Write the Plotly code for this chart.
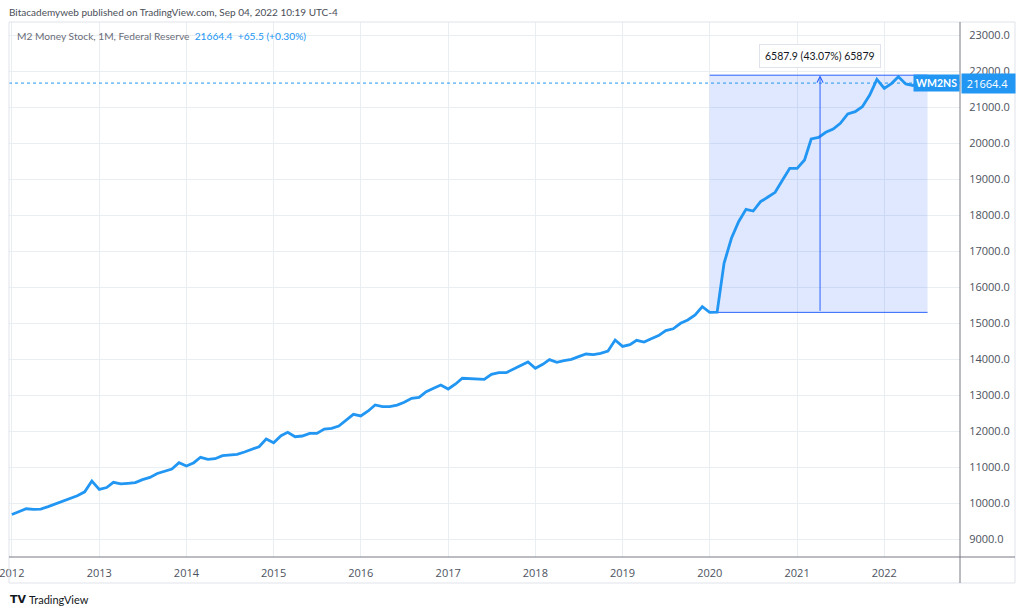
import pandas as pd
import plotly.graph_objects as go

# ---- data ----
start_month = "2012-01-01"
m2_values = [
    9680, 9760, 9840, 9825, 9830, 9900, 9970, 10040, 10110, 10200, 10310, 10611,
    10380, 10430, 10574, 10530, 10545, 10565, 10650, 10710, 10820, 10880, 10944, 11120,
    11030, 11120, 11270, 11213, 11231, 11314, 11335, 11352, 11417, 11480, 11564, 11778,
    11675, 11870, 11963, 11842, 11861, 11935, 11935, 12055, 12075, 12139, 12306, 12463,
    12417, 12556, 12722, 12675, 12675, 12720, 12797, 12908, 12936, 13092, 13190, 13278,
    13167, 13306, 13464, 13455, 13445, 13436, 13575, 13620, 13620, 13714, 13806, 13917,
    13741, 13852, 13981, 13908, 13953, 13991, 14065, 14139, 14120, 14158, 14222, 14528,
    14350, 14400, 14520, 14470, 14560, 14650, 14790, 14840, 14991, 15083, 15222, 15453,
    15297, 15300, 16658, 17353, 17814, 18158, 18111, 18370, 18500, 18630, 18970, 19297,
    19297, 19528, 20111, 20157, 20297, 20389, 20547, 20806, 20870, 21009, 21333, 21769,
    21519, 21658, 21842, 21639, 21598.9, 21664.4,
]
dates = pd.date_range(start_month, periods=len(m2_values), freq="MS")

last_value = 21664.4
change_text = "+65.5 (+0.30%)"
series_name = "WM2NS"
title_text = "M2 Money Stock, 1M, Federal Reserve"
header_text = "Bitacademyweb published on TradingView.com, Sep 04, 2022 10:19 UTC-4"

range_start, range_end = "2020-01-01", "2022-07-01"
range_low, range_high = 15295.6, 21883.5
range_arrow_date = "2021-04-07"
range_label = "6587.9 (43.07%) 65879"

y_ticks = list(range(9000, 23001, 1000))
x_ticks = [f"{y}-01-01" for y in range(2012, 2023)]

# ---- layout geometry (pixels) ----
W, H = 1024, 613
pl, pr, pt, pb = 9, 960, 22, 557   # plot area
fr, fb = 1015, 583                  # frame right / bottom


def px(x):
    return x / W


def py(y):
    return 1 - y / H


BLUE = "#2196f3"
DRAW = "#2962ff"
TXT = "#131722"
FONT = "Open Sans"
TFONT = "Lato"

fig = go.Figure()
fig.add_trace(go.Scatter(
    x=dates, y=m2_values, mode="lines",
    line=dict(color=BLUE, width=2.8), hoverinfo="skip", showlegend=False,
))

shapes = [
    # range rect fill
    dict(type="rect", xref="x", yref="y", x0=range_start, x1=range_end,
         y0=range_low, y1=range_high, fillcolor="rgba(41,98,255,0.15)",
         line=dict(width=0), layer="between"),
    dict(type="line", xref="x", yref="y", x0=range_start, x1=range_end,
         y0=range_high, y1=range_high, line=dict(color=DRAW, width=1), layer="between"),
    dict(type="line", xref="x", yref="y", x0=range_start, x1=range_end,
         y0=range_low, y1=range_low, line=dict(color=DRAW, width=1), layer="between"),
    # last price dotted line
    dict(type="line", xref="paper", yref="y", x0=px(pl), x1=px(pr),
         y0=last_value, y1=last_value, line=dict(color=BLUE, width=1, dash="dot")),
    # frame
    dict(type="rect", xref="paper", yref="paper", x0=px(pl), x1=px(fr),
         y0=py(fb), y1=py(pt), line=dict(color="#e0e3eb", width=1)),
    dict(type="line", xref="paper", yref="paper", x0=px(pl), x1=px(fr),
         y0=py(pb), y1=py(pb), line=dict(color="#787b86", width=1)),
    dict(type="line", xref="paper", yref="paper", x0=px(pr), x1=px(pr),
         y0=py(fb), y1=py(pt), line=dict(color="#787b86", width=1)),
]

annotations = [
    dict(xref="paper", yref="paper", x=px(7), y=py(12), xanchor="left", yanchor="middle",
         text=header_text, showarrow=False, font=dict(family=TFONT, size=10, color="#4a4e58")),
    dict(xref="paper", yref="paper", x=px(15), y=py(36), xanchor="left", yanchor="middle",
         text=f"{title_text}\u00a0\u00a0<span style='color:{BLUE}'>{last_value}\u00a0\u00a0{change_text}</span>",
         showarrow=False, font=dict(family=TFONT, size=10.2, color="#6a6d78")),
    # arrow in range
    dict(xref="x", yref="y", axref="x", ayref="y", x=range_arrow_date, y=range_high,
         ax=range_arrow_date, ay=range_low, text="", showarrow=True, arrowhead=5,
         arrowsize=1.2, arrowwidth=1, arrowcolor=DRAW, standoff=0),
    dict(xref="x", yref="paper", x=range_arrow_date, y=py(55.5), xanchor="center", yanchor="middle",
         text=range_label, showarrow=False, bgcolor="white", bordercolor="#e0e3eb",
         borderwidth=1, borderpad=5, font=dict(family=TFONT, size=10.5, color=TXT)),
    # series & price labels
    dict(xref="paper", yref="y", x=px(pr), y=last_value, xanchor="right", yanchor="middle",
         text=f"<b>{series_name}</b>", showarrow=False, bgcolor=BLUE, borderpad=2,
         font=dict(family=TFONT, size=10.5, color="white")),
    dict(xref="paper", yref="y", x=px(pr + 1), y=last_value, xanchor="left", yanchor="middle",
         text=f"\u00a0{last_value}\u00a0\u00a0", showarrow=False, bgcolor=BLUE, borderpad=2,
         font=dict(family=FONT, size=11, color="white")),
    # footer
    dict(xref="paper", yref="paper", x=px(8), y=py(599), xanchor="left", yanchor="middle",
         text="<b>TV</b>", showarrow=False, font=dict(family="DejaVu Sans", size=11, color=TXT)),
    dict(xref="paper", yref="paper", x=px(27), y=py(599), xanchor="left", yanchor="middle",
         text="TradingView", showarrow=False, font=dict(family=TFONT, size=11, color=TXT)),
]

fig.update_layout(
    width=W, height=H, autosize=False,
    margin=dict(l=0, r=0, t=0, b=0, pad=0),
    paper_bgcolor="white", plot_bgcolor="white",
    shapes=shapes, annotations=annotations, showlegend=False,
    xaxis=dict(
        domain=[px(pl), px(pr)], type="date", automargin=False,
        range=["2011-12-20", "2022-11-14"],
        tickvals=x_ticks, tickformat="%Y", ticklabeloverflow="allow",
        showgrid=True, gridcolor="#e9eef3", gridwidth=1,
        zeroline=False, showline=False,
        ticks="outside", ticklen=6, tickcolor="rgba(0,0,0,0)",
        tickfont=dict(family=FONT, size=11, color="#4c525e"),
    ),
    yaxis=dict(
        domain=[py(pb), py(pt)], side="right", automargin=False,
        range=[8500, 23361],
        tickvals=y_ticks, tickformat=".1f",
        showgrid=True, gridcolor="#e9eef3", gridwidth=1,
        zeroline=False, showline=False,
        ticks="outside", ticklen=6, tickcolor="rgba(0,0,0,0)",
        tickfont=dict(family=FONT, size=11, color="#4c525e"),
    ),
)

fig.write_html("out.html", config={"displayModeBar": False},
               post_script="document.body.style.margin='0';")
